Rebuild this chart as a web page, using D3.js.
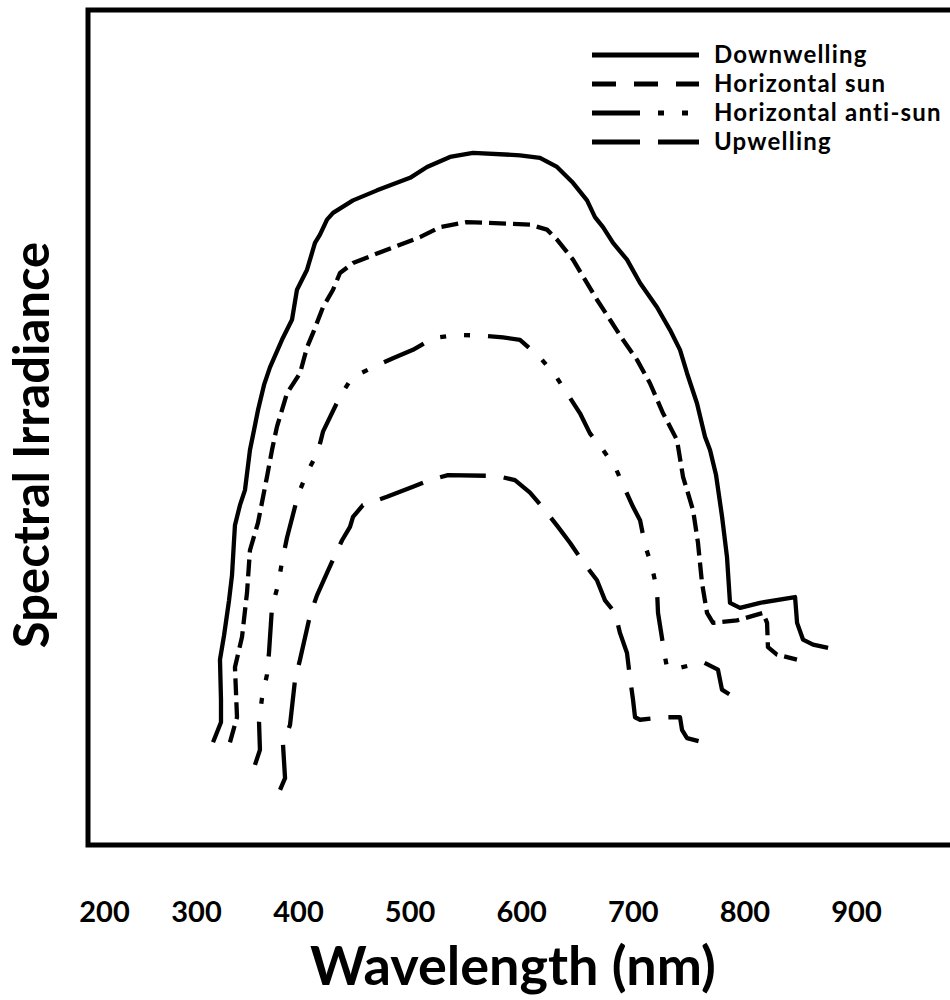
<!DOCTYPE html>
<html>
<head>
<meta charset="utf-8">
<script src="https://cdn.jsdelivr.net/npm/d3@7"></script>
<style>
  body { margin: 0; background: #fff; }
  svg { display: block; }
  text { font-family: Lato, "Open Sans", sans-serif; font-weight: 700; fill: #000; }
</style>
</head>
<body>
<svg id="chart" width="950" height="1000"></svg>
<script>
// Wavelength tick labels (nm)
const tickValues = [200, 300, 400, 500, 600, 700, 800, 900];

// Series names, in legend order
const seriesNames = ["Downwelling", "Horizontal sun", "Horizontal anti-sun", "Upwelling"];

// Spectral irradiance (relative units) vs wavelength (nm): [wavelength, irradiance]
const downwelling = [
  [316.7,12.3],[324.5,14.7],[324.5,17.4],[323.5,22.2],[327.5,25.1],[332.4,29.3],[335.3,32.3],
  [337.3,36.5],[338.2,38.3],[343.1,40.7],[348.0,42.5],[352.9,47.3],[356.9,49.7],[360.8,52.1],
  [366.7,55.1],[372.5,57.2],[384.3,60.5],[394.1,62.9],[399.0,66.5],[408.1,68.9],[415.2,72.1],
  [419.7,73.1],[426.0,74.9],[431.4,75.7],[449.3,77.2],[470.8,78.4],[500.4,79.9],[515.6,81.2],
  [536.2,82.4],[556.8,82.9],[598.9,82.6],[616.8,82.3],[632.1,81.2],[646.4,79.3],[659.0,77.2],
  [666.1,75.2],[673.3,74.0],[682.3,72.1],[694.8,70.1],[706.5,67.3],[721.7,64.4],[733.3,61.7],
  [742.3,59.3],[748.6,56.5],[757.5,52.9],[764.7,48.9],[769.2,47.3],[774.6,44.3],[780.0,39.3],
  [784.4,34.5],[787.1,29.0],[796.1,28.4],[814.0,29.0],[845.4,29.7],[847.2,26.6],[852.5,24.6],
  [861.5,24.0],[875.0,23.6]
];

const horizontalSun = [
  [333.3,12.3],[340.2,15.3],[338.2,21.3],[345.1,24.9],[350.0,30.2],[352.9,35.3],[360.8,38.6],
  [369.6,44.1],[374.5,47.3],[379.4,50.1],[389.2,54.1],[401.8,56.5],[408.1,59.6],[413.4,61.3],
  [422.4,64.4],[431.4,66.5],[437.6,68.5],[449.3,69.7],[479.7,71.3],[509.3,72.8],[527.2,74.0],
  [551.4,74.6],[607.9,74.3],[623.1,73.7],[632.1,72.5],[646.4,70.1],[659.0,67.3],[667.9,65.3],
  [679.6,62.9],[691.2,60.5],[703.8,58.1],[715.4,55.3],[727.1,51.7],[739.6,48.5],[745.0,44.1],
  [754.0,40.1],[758.4,36.2],[762.0,31.4],[766.5,27.8],[771.9,26.6],[793.4,26.9],[816.7,27.8],
  [820.3,26.6],[821.1,23.7],[829.2,22.8],[847.1,22.2]
];

const horizontalAntiSun = [
  [357.8,9.6],[362.7,11.4],[361.8,14.7],[364.7,17.6],[369.6,20.4],[371.6,23.1],[374.5,28.5],
  [380.4,31.1],[384.3,33.9],[389.2,36.8],[400.0,41.9],[408.1,44.6],[417.9,47.1],[422.4,49.5],
  [437.6,53.7],[448.4,56.0],[467.2,57.2],[485.1,58.3],[503.0,59.3],[521.0,60.7],[542.5,61.1],
  [564.9,61.0],[583.7,60.8],[598.9,60.5],[616.8,58.4],[630.3,56.3],[641.0,54.1],[652.7,51.7],
  [661.6,49.3],[673.3,47.3],[684.1,45.3],[693.0,42.6],[700.2,40.5],[706.5,38.9],[711.0,35.9],
  [717.2,33.3],[721.7,30.5],[722.6,27.8],[728.9,22.5],[730.7,21.2],[741.4,21.2],[762.9,21.9],
  [776.3,21.0],[779.9,18.6],[787.1,18.0],[798.7,17.6]
];

const upwelling = [
  [382.4,6.6],[387.3,8.0],[385.3,12.0],[392.2,14.4],[397.1,19.8],[401.8,22.2],[410.8,27.5],
  [417.0,29.9],[426.0,32.6],[433.2,34.7],[439.5,36.5],[446.6,38.1],[449.3,39.3],[458.2,40.7],
  [479.7,41.7],[503.0,42.9],[518.3,43.7],[534.4,44.3],[578.3,44.2],[594.4,43.7],[607.9,42.2],
  [621.3,40.1],[633.0,38.1],[643.7,36.2],[655.4,33.9],[667.9,31.7],[675.1,29.3],[684.1,27.8],
  [688.5,25.4],[694.8,23.0],[697.5,20.0],[700.2,17.4],[702.0,15.3],[706.5,15.0],[727.1,15.3],
  [742.3,15.3],[744.1,13.8],[748.6,12.8],[762.9,12.3]
];

const seriesData = [downwelling, horizontalSun, horizontalAntiSun, upwelling];

// Line styles: curve dashes and legend-swatch dashes
const curveDash  = [null, "17 7", "44 18 6 18 6 18", "46 18"];
const legendDash = [null, "24 18", "48 18 6 18 6 18", "48 18"];

const svg = d3.select("#chart");

const frame = { left: 88, top: 10, bottom: 845, right: 962 };

// Wavelength axis: the short-wave labels sit closer together
const x = d3.scaleLinear()
  .domain([200, 300, 400, 900])
  .range([104, 196, 298, 856]);

const y = d3.scaleLinear()
  .domain([0, 100])
  .range([frame.bottom, frame.top]);

// Plot frame
svg.append("rect")
  .attr("x", frame.left)
  .attr("y", frame.top)
  .attr("width", frame.right - frame.left)
  .attr("height", frame.bottom - frame.top)
  .attr("fill", "none")
  .attr("stroke", "#000")
  .attr("stroke-width", 5);

// Curves
const line = d3.line()
  .x(d => x(d[0]))
  .y(d => y(d[1]))
  .curve(d3.curveLinear);

svg.append("g")
  .selectAll("path")
  .data(seriesData)
  .join("path")
  .attr("d", line)
  .attr("fill", "none")
  .attr("stroke", "#000")
  .attr("stroke-width", 4.3)
  .attr("stroke-linejoin", "round")
  .attr("stroke-linecap", "butt")
  .attr("stroke-dasharray", (d, i) => curveDash[i]);

// Wavelength tick labels
const xAxis = d3.axisBottom(x)
  .tickValues(tickValues)
  .tickFormat(d3.format("d"))
  .tickSize(0)
  .tickPadding(0);

const gx = svg.append("g")
  .attr("transform", "translate(0,922)")
  .call(xAxis);
gx.select(".domain").remove();
gx.selectAll("text")
  .attr("y", 0)
  .attr("dy", 0)
  .style("font-family", "Lato, 'Open Sans', sans-serif")
  .style("font-weight", 700)
  .style("font-size", "29px")
  .attr("fill", "#000");

// Axis titles
svg.append("text")
  .attr("x", 513)
  .attr("y", 985)
  .attr("text-anchor", "middle")
  .style("font-size", "54px")
  .text("Wavelength (nm)");

svg.append("text")
  .attr("transform", "translate(49,445) rotate(-90)")
  .attr("text-anchor", "middle")
  .style("font-size", "49px")
  .text("Spectral Irradiance");

// Legend
const legendRows = [55, 84, 113, 142];
const legend = svg.append("g");
seriesNames.forEach((name, i) => {
  legend.append("line")
    .attr("x1", 592).attr("x2", 699)
    .attr("y1", legendRows[i]).attr("y2", legendRows[i])
    .attr("stroke", "#000")
    .attr("stroke-width", 5)
    .attr("stroke-dasharray", legendDash[i]);
  legend.append("text")
    .attr("x", 714)
    .attr("y", legendRows[i])
    .attr("dy", "0.35em")
    .style("font-size", "24px")
    .style("letter-spacing", "1.2px")
    .text(name);
});
</script>
</body>
</html>
